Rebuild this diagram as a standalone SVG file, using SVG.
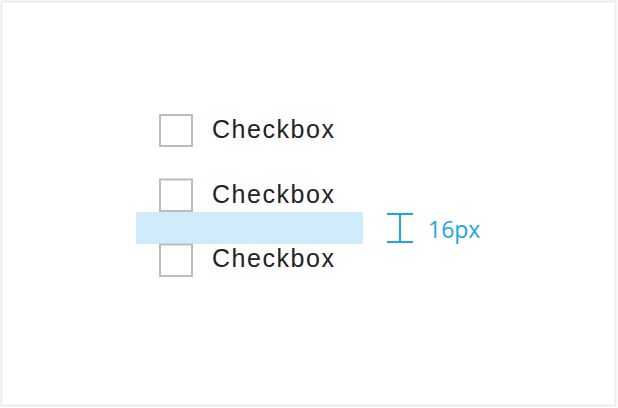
<svg xmlns="http://www.w3.org/2000/svg" width="618" height="408" viewBox="0 0 618 408">
  <style>
    .box { fill: #ffffff; stroke: #bcbcbc; stroke-width: 2; }
    .label { font-family: "Liberation Sans", Arial, sans-serif; font-size: 25px; fill: #222222; }
    .dim { stroke: #1ea5e3; stroke-width: 2; fill: none; }
    .dimtext { font-family: "Open Sans", "Liberation Sans", sans-serif; font-size: 23px; fill: #1ea5e3; }
  </style>
  <rect x="0" y="0" width="618" height="408" fill="#ffffff"/>
  <rect x="1.5" y="1.5" width="614" height="404" fill="#ffffff" stroke="#ececec" stroke-width="2"/>

  <rect id="spacing-band" x="136" y="212" width="227" height="32" fill="#d0ecfa"/>

  <g id="checkbox1">
    <rect class="box" x="160" y="115" width="32" height="31"/>
    <text class="label" x="212" y="138" textLength="122" lengthAdjust="spacing">Checkbox</text>
  </g>
  <g id="checkbox2">
    <rect class="box" x="160" y="179.5" width="32" height="31.5"/>
    <text class="label" x="212" y="202.5" textLength="122" lengthAdjust="spacing">Checkbox</text>
  </g>
  <g id="checkbox3">
    <rect class="box" x="160" y="244.5" width="32" height="31.5"/>
    <text class="label" x="212" y="267" textLength="122" lengthAdjust="spacing">Checkbox</text>
  </g>

  <g id="connectors">
    <g id="dimension">
      <line class="dim" x1="387" y1="214" x2="413" y2="214"/>
      <line class="dim" x1="387" y1="242" x2="413" y2="242"/>
      <line class="dim" x1="400" y1="214" x2="400" y2="242"/>
    </g>
  </g>
  <g id="dimension-label">
    <text class="dimtext" x="428" y="238">16px</text>
  </g>
</svg>
